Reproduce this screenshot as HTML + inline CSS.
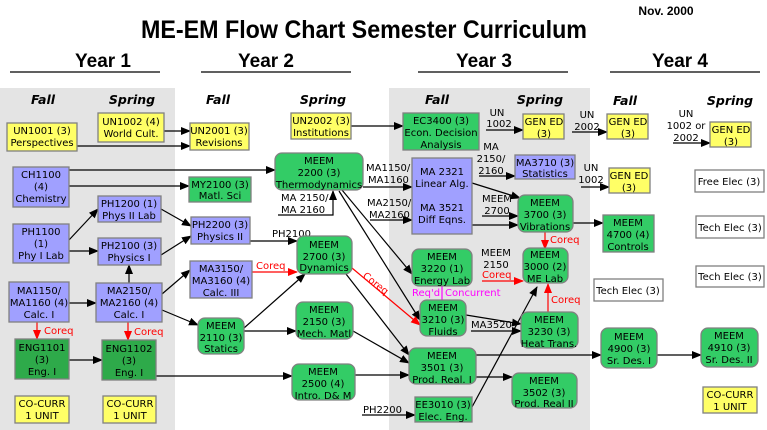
<!DOCTYPE html>
<html><head><meta charset="utf-8"><style>
html,body{margin:0;padding:0;background:#fff;}
svg{display:block;}
text{font-family:"DejaVu Sans","Liberation Sans",sans-serif;font-size:10px;fill:#000;}
.t{font-family:"Liberation Sans",sans-serif;font-weight:bold;}
.h{font-family:"DejaVu Sans",sans-serif;font-weight:bold;font-style:italic;font-size:12.5px;}
.r{fill:#f00;}
.m{fill:#f0f;}
.y{fill:#ffff66;stroke:#808080;stroke-width:1.3;}
.b{fill:#a0a0ff;stroke:#808080;stroke-width:1.3;}
.g{fill:#33cc66;stroke:#808080;stroke-width:1.3;}
.d{fill:#2eaa4a;stroke:#808080;stroke-width:1.3;}
.w{fill:#fff;stroke:#808080;stroke-width:1.3;}
.l{stroke:#000;stroke-width:1.2;fill:none;marker-end:url(#a);}
.n{stroke:#000;stroke-width:1.2;fill:none;}
.rl{stroke:#f00;stroke-width:1.2;fill:none;marker-end:url(#ar);}
</style></head><body>
<svg width="767" height="430" viewBox="0 0 767 430" xmlns="http://www.w3.org/2000/svg">
<defs>
<marker id="a" markerWidth="10" markerHeight="8" refX="9" refY="4" orient="auto" markerUnits="userSpaceOnUse"><path d="M0,0 L10,4 L0,8 z" fill="#000"/></marker>
<marker id="ar" markerWidth="10" markerHeight="8" refX="9" refY="4" orient="auto" markerUnits="userSpaceOnUse"><path d="M0,0 L10,4 L0,8 z" fill="#f00"/></marker>
</defs>
<rect x="0" y="88" width="175" height="342" fill="#e4e4e4"/>
<rect x="389" y="88" width="201" height="342" fill="#e4e4e4"/>

<text class="t" x="364" y="38" text-anchor="middle" style="font-size:25px" textLength="446" lengthAdjust="spacingAndGlyphs">ME-EM Flow Chart Semester Curriculum</text>
<text class="t" x="666" y="15" text-anchor="middle" style="font-size:12px">Nov. 2000</text>
<g class="t" style="font-size:19px" text-anchor="middle">
<text class="t" x="103" y="67" style="font-size:19px">Year 1</text>
<text class="t" x="266" y="67" style="font-size:19px">Year 2</text>
<text class="t" x="484" y="67" style="font-size:19px">Year 3</text>
<text class="t" x="680" y="67" style="font-size:19px">Year 4</text>
</g>
<g stroke="#000" stroke-width="1.2">
<line x1="10" y1="72" x2="160" y2="72"/><line x1="201" y1="72" x2="351" y2="72"/>
<line x1="418" y1="72" x2="568" y2="72"/><line x1="610" y1="72" x2="760" y2="72"/>
</g>
<g text-anchor="middle">
<text class="h" x="43" y="104">Fall</text><text class="h" x="132" y="104">Spring</text>
<text class="h" x="218" y="104">Fall</text><text class="h" x="323" y="104">Spring</text>
<text class="h" x="437" y="104">Fall</text><text class="h" x="540" y="104">Spring</text>
<text class="h" x="625" y="105">Fall</text><text class="h" x="730" y="105">Spring</text>
</g>

<!-- connectors -->
<line class="l" x1="164" y1="131" x2="190" y2="131"/>
<line class="l" x1="77" y1="146" x2="190" y2="146"/>
<line class="l" x1="69" y1="170" x2="275" y2="170"/>
<line class="l" x1="69" y1="186" x2="189" y2="186"/>
<line class="l" x1="69" y1="240" x2="98" y2="209"/>
<line class="l" x1="69" y1="251" x2="98" y2="251"/>
<line class="l" x1="161" y1="209" x2="191" y2="226"/>
<line class="l" x1="161" y1="255" x2="191" y2="236"/>
<line class="l" x1="250" y1="241" x2="297" y2="241"/>
<line class="l" x1="129" y1="283" x2="129" y2="265"/>
<line class="l" x1="69" y1="303" x2="96" y2="303"/>
<line class="l" x1="162" y1="294" x2="190" y2="270"/>
<line class="l" x1="162" y1="310" x2="198" y2="325"/>
<line class="rl" x1="252" y1="272" x2="297" y2="272"/>
<line class="rl" x1="37" y1="322" x2="37" y2="339"/>
<line class="rl" x1="128" y1="322" x2="128" y2="340"/>
<line class="l" x1="69" y1="360" x2="102" y2="360"/>
<line class="l" x1="156" y1="376" x2="292" y2="376"/>
<line class="l" x1="244" y1="328" x2="305" y2="274"/>
<line class="l" x1="244" y1="331" x2="296" y2="331"/>
<polyline class="l" points="278,215 333,215 333,191"/>
<line class="l" x1="351" y1="126" x2="403" y2="126"/>
<line class="l" x1="363" y1="187" x2="412" y2="187"/>
<line class="l" x1="370" y1="220" x2="412" y2="220"/>
<line class="l" x1="342" y1="190" x2="412" y2="274"/>
<line class="l" x1="339" y1="191" x2="420" y2="320"/>
<line class="rl" x1="352" y1="268" x2="420" y2="325"/>
<line class="l" x1="346" y1="274" x2="409" y2="355"/>
<line class="l" x1="353" y1="331" x2="409" y2="363"/>
<line class="l" x1="355" y1="375" x2="409" y2="375"/>
<line class="l" x1="362" y1="415" x2="415" y2="415"/>
<line class="l" x1="486" y1="130" x2="523" y2="130"/>
<line class="l" x1="572" y1="132" x2="607" y2="132"/>
<line class="l" x1="673" y1="143" x2="710" y2="143"/>
<line class="l" x1="479" y1="176" x2="515" y2="176"/>
<line class="l" x1="581" y1="187" x2="609" y2="187"/>
<line class="l" x1="472" y1="183" x2="520" y2="198"/>
<line class="l" x1="482" y1="216" x2="518" y2="216"/>
<line class="l" x1="472" y1="225" x2="518" y2="225"/>
<line class="l" x1="573" y1="223" x2="603" y2="223"/>
<line class="rl" x1="545" y1="232" x2="545" y2="249"/>
<line class="rl" x1="482" y1="281" x2="523" y2="281"/>
<line class="rl" x1="548" y1="312" x2="548" y2="284"/>
<line class="l" x1="471" y1="331" x2="521" y2="331"/>
<line class="l" x1="466" y1="315" x2="521" y2="324"/>
<line class="l" x1="472" y1="407" x2="537" y2="287"/>
<line class="l" x1="476" y1="355" x2="601" y2="355"/>
<line class="l" x1="657" y1="355" x2="701" y2="355"/>
<line class="l" x1="476" y1="377" x2="512" y2="377"/>
<line x1="442" y1="286" x2="442" y2="300" stroke="#f0f" stroke-width="1.2"/>

<!-- connector labels -->
<text x="272" y="237">PH2100</text>
<text class="r" x="256" y="269">Coreq</text>
<text class="r" x="44" y="334">Coreq</text>
<text class="r" x="134" y="335">Coreq</text>
<text x="281" y="201">MA 2150/</text><text x="281" y="213">MA 2160</text>
<text x="366" y="171">MA1150/</text><text x="368" y="183">MA1160</text>
<text x="367" y="206">MA2150/</text><text x="369" y="218">MA2160</text>
<text class="r" transform="translate(362,277) rotate(38)">Coreq</text>
<text x="363" y="413">PH2200</text>
<text x="497" y="116" text-anchor="middle">UN</text><text x="499" y="127" text-anchor="middle">1002</text>
<text x="587" y="118" text-anchor="middle">UN</text><text x="587" y="130" text-anchor="middle">2002</text>
<text x="686" y="117" text-anchor="middle">UN</text><text x="686" y="129" text-anchor="middle">1002 or</text><text x="686" y="141" text-anchor="middle">2002</text>
<text x="491" y="150" text-anchor="middle">MA</text><text x="491" y="162" text-anchor="middle">2150/</text><text x="491" y="174" text-anchor="middle">2160</text>
<text x="591" y="171" text-anchor="middle">UN</text><text x="591" y="183" text-anchor="middle">1002</text>
<text x="497" y="202" text-anchor="middle">MEEM</text><text x="497" y="214" text-anchor="middle">2700</text>
<text class="r" x="550" y="243">Coreq</text>
<text x="496" y="256" text-anchor="middle">MEEM</text><text x="496" y="268" text-anchor="middle">2150</text>
<text class="r" x="482" y="278">Coreq</text>
<text class="r" x="551" y="303">Coreq</text>
<text class="m" x="412" y="296">Req'd</text><text class="m" x="445" y="296">Concurrent</text>
<text x="471" y="328">MA3520</text>

<!-- boxes -->
<g text-anchor="middle">
<rect class="y" x="7" y="123" width="70" height="28"/><text x="42" y="134">UN1001 (3)</text><text x="42" y="146">Perspectives</text>
<rect class="y" x="98" y="113" width="66" height="29"/><text x="131" y="125">UN1002 (4)</text><text x="131" y="137">World Cult.</text>
<rect class="y" x="190" y="123" width="59" height="27"/><text x="219" y="134">UN2001 (3)</text><text x="219" y="146">Revisions</text>
<rect class="y" x="291" y="113" width="60" height="26"/><text x="321" y="124">UN2002 (3)</text><text x="321" y="136">Institutions</text>
<rect class="b" x="13" y="167" width="56" height="40"/><text x="41" y="178">CH1100</text><text x="41" y="190">(4)</text><text x="41" y="202">Chemistry</text>
<rect class="g" x="189" y="177" width="62" height="25"/><text x="220" y="188">MY2100 (3)</text><text x="220" y="199">Matl. Sci</text>
<rect class="g" x="275" y="153" width="88" height="37" rx="7"/><text x="319" y="164">MEEM</text><text x="319" y="176">2200 (3)</text><text x="319" y="188">Thermodynamics</text>
<rect class="b" x="98" y="196" width="63" height="26"/><text x="129" y="207">PH1200 (1)</text><text x="129" y="219">Phys II Lab</text>
<rect class="b" x="13" y="224" width="56" height="39"/><text x="41" y="235">PH1100</text><text x="41" y="247">(1)</text><text x="41" y="259">Phy I Lab</text>
<rect class="b" x="98" y="238" width="63" height="27"/><text x="129" y="249">PH2100 (3)</text><text x="129" y="261">Physics I</text>
<rect class="b" x="191" y="217" width="59" height="27"/><text x="220" y="228">PH2200 (3)</text><text x="220" y="240">Physics II</text>
<rect class="g" x="297" y="236" width="55" height="38" rx="7"/><text x="324" y="248">MEEM</text><text x="324" y="260">2700 (3)</text><text x="324" y="271">Dynamics</text>
<rect class="b" x="9" y="282" width="60" height="40"/><text x="39" y="294">MA1150/</text><text x="39" y="306">MA1160 (4)</text><text x="39" y="318">Calc. I</text>
<rect class="b" x="96" y="283" width="66" height="39"/><text x="129" y="294">MA2150/</text><text x="129" y="306">MA2160 (4)</text><text x="129" y="318">Calc. I</text>
<rect class="b" x="190" y="261" width="62" height="37"/><text x="221" y="272">MA3150/</text><text x="221" y="284">MA3160 (4)</text><text x="221" y="296">Calc. III</text>
<rect class="d" x="15" y="339" width="54" height="40"/><text x="42" y="351">ENG1101</text><text x="42" y="363">(3)</text><text x="42" y="375">Eng. I</text>
<rect class="d" x="102" y="340" width="54" height="40"/><text x="129" y="352">ENG1102</text><text x="129" y="364">(3)</text><text x="129" y="376">Eng. I</text>
<rect class="g" x="198" y="318" width="46" height="36" rx="7"/><text x="221" y="329">MEEM</text><text x="221" y="341">2110 (3)</text><text x="221" y="352">Statics</text>
<rect class="g" x="296" y="302" width="57" height="37" rx="7"/><text x="324" y="313">MEEM</text><text x="324" y="325">2150 (3)</text><text x="324" y="337">Mech. Matl</text>
<rect class="g" x="292" y="364" width="63" height="36" rx="7"/><text x="323" y="375">MEEM</text><text x="323" y="387">2500 (4)</text><text x="323" y="399">Intro. D&amp; M</text>
<rect class="y" x="15" y="396" width="54" height="27"/><text x="42" y="407">CO-CURR</text><text x="42" y="419">1 UNIT</text>
<rect class="y" x="103" y="396" width="53" height="27"/><text x="130" y="407">CO-CURR</text><text x="130" y="419">1 UNIT</text>

<rect class="g" x="403" y="113" width="76" height="37"/><text x="441" y="124">EC3400 (3)</text><text x="441" y="136">Econ. Decision</text><text x="441" y="148">Analysis</text>
<rect class="y" x="523" y="114" width="41" height="25"/><text x="544" y="125">GEN ED</text><text x="544" y="137">(3)</text>
<rect class="y" x="607" y="114" width="41" height="25"/><text x="628" y="125">GEN ED</text><text x="628" y="137">(3)</text>
<rect class="y" x="710" y="122" width="41" height="25"/><text x="731" y="133">GEN ED</text><text x="731" y="145">(3)</text>
<rect class="b" x="412" y="158" width="60" height="76"/><text x="442" y="175">MA 2321</text><text x="442" y="187">Linear Alg.</text><text x="442" y="211">MA 3521</text><text x="442" y="223">Diff Eqns.</text>
<rect class="b" x="515" y="155" width="60" height="24"/><text x="545" y="166">MA3710 (3)</text><text x="545" y="177">Statistics</text>
<rect class="y" x="609" y="168" width="41" height="25"/><text x="629" y="179">GEN ED</text><text x="629" y="191">(3)</text>
<rect class="g" x="518" y="195" width="55" height="37" rx="7"/><text x="545" y="206">MEEM</text><text x="545" y="218">3700 (3)</text><text x="545" y="230">Vibrations</text>
<rect class="g" x="603" y="215" width="51" height="37"/><text x="628" y="226">MEEM</text><text x="628" y="238">4700 (4)</text><text x="628" y="250">Controls</text>
<rect class="w" x="695" y="170" width="69" height="22"/><text x="729" y="185">Free Elec (3)</text>
<rect class="w" x="696" y="216" width="68" height="22"/><text x="730" y="231">Tech Elec (3)</text>
<rect class="w" x="696" y="266" width="68" height="21"/><text x="730" y="280">Tech Elec (3)</text>
<rect class="w" x="594" y="279" width="69" height="22"/><text x="628" y="294">Tech Elec (3)</text>
<rect class="g" x="412" y="249" width="60" height="37" rx="7"/><text x="442" y="260">MEEM</text><text x="442" y="272">3220 (1)</text><text x="442" y="284">Energy Lab</text>
<rect class="g" x="523" y="248" width="45" height="35" rx="7"/><text x="545" y="258">MEEM</text><text x="545" y="270">3000 (2)</text><text x="545" y="282">ME Lab</text>
<rect class="g" x="420" y="300" width="46" height="36" rx="7"/><text x="443" y="311">MEEM</text><text x="443" y="323">3210 (3)</text><text x="443" y="335">Fluids</text>
<rect class="g" x="521" y="312" width="57" height="36" rx="7"/><text x="549" y="323">MEEM</text><text x="549" y="335">3230 (3)</text><text x="549" y="347">Heat Trans.</text>
<rect class="g" x="409" y="348" width="67" height="36" rx="7"/><text x="442" y="359">MEEM</text><text x="442" y="371">3501 (3)</text><text x="442" y="383">Prod. Real. I</text>
<rect class="g" x="601" y="328" width="56" height="40" rx="7"/><text x="629" y="340">MEEM</text><text x="629" y="352">4900 (3)</text><text x="629" y="364">Sr. Des. I</text>
<rect class="g" x="701" y="328" width="57" height="39" rx="7"/><text x="729" y="339">MEEM</text><text x="729" y="351">4910 (3)</text><text x="729" y="363">Sr. Des. II</text>
<rect class="g" x="512" y="373" width="65" height="35" rx="7"/><text x="544" y="384">MEEM</text><text x="544" y="396">3502 (3)</text><text x="544" y="407">Prod. Real II</text>
<rect class="g" x="415" y="397" width="57" height="25"/><text x="443" y="408">EE3010 (3)</text><text x="443" y="420">Elec. Eng.</text>
<rect class="y" x="703" y="387" width="54" height="26"/><text x="730" y="398">CO-CURR</text><text x="730" y="410">1 UNIT</text>
</g>
</svg>
</body></html>
